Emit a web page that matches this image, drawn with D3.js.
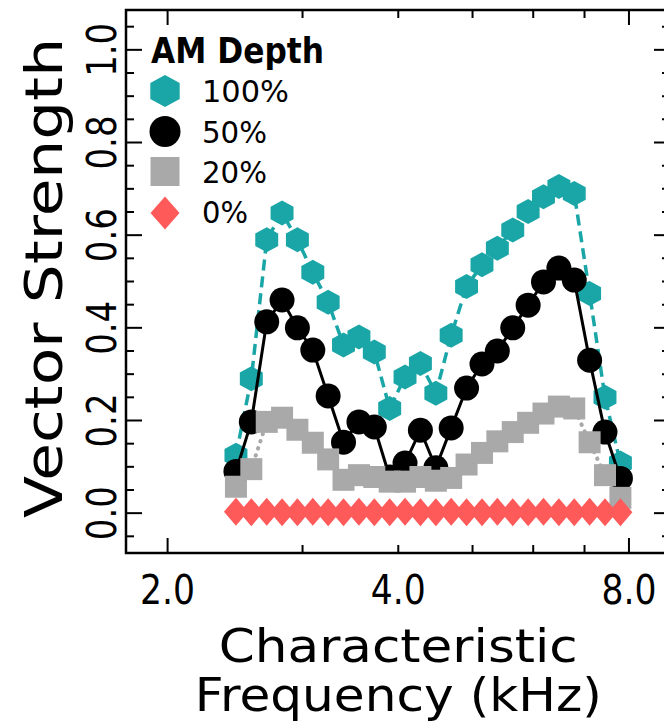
<!DOCTYPE html>
<html><head><meta charset="utf-8">
<script src="https://cdn.jsdelivr.net/npm/d3@7"></script>
<style>html,body{margin:0;padding:0;background:#fff;overflow:hidden}svg{display:block}</style>
</head><body><svg id="chart" width="664" height="723"></svg>
<script>
// ---- data ----
const cf = [2.456, 2.572, 2.694, 2.821, 2.954, 3.094, 3.240, 3.393, 3.554, 3.722,
            3.898, 4.082, 4.275, 4.478, 4.689, 4.911, 5.144, 5.387, 5.642, 5.909,
            6.188, 6.481, 6.787, 7.108, 7.444, 7.797];
const vs100 = [0.125, 0.290, 0.590, 0.648, 0.590, 0.520, 0.455, 0.363, 0.380, 0.348,
               0.226, 0.294, 0.323, 0.259, 0.384, 0.489, 0.536, 0.572, 0.611, 0.651,
               0.683, 0.705, 0.690, 0.474, 0.250, 0.108];
const vs50 = [0.090, 0.197, 0.413, 0.460, 0.400, 0.352, 0.253, 0.153, 0.197, 0.186,
              0.078, 0.108, 0.179, 0.098, 0.184, 0.270, 0.322, 0.350, 0.400, 0.449,
              0.499, 0.529, 0.503, 0.330, 0.175, 0.075];
const vs20 = [0.057, 0.095, 0.197, 0.206, 0.180, 0.152, 0.116, 0.072, 0.082, 0.078,
              0.068, 0.068, 0.078, 0.070, 0.076, 0.105, 0.130, 0.155, 0.175, 0.195,
              0.215, 0.230, 0.226, 0.153, 0.082, 0.033];
const vs0 = [0.003, 0.002, 0.003, 0.002, 0.002, 0.003, 0.002, 0.002, 0.003, 0.002,
             0.002, 0.003, 0.002, 0.002, 0.003, 0.002, 0.002, 0.003, 0.002, 0.002,
             0.003, 0.002, 0.002, 0.003, 0.002, 0.002];
const seriesNames = ["100%", "50%", "20%", "0%"];
const legendTitle = "AM Depth";
const xTicksLong = [2, 8];
const xTicksShort = [3, 4, 5, 6, 7];
const xLabelValues = [2, 4, 8];
const xLabelText = ["2.0", "4.0", "8.0"];
const yTicksMajor = [0, 0.2, 0.4, 0.6, 0.8, 1.0];
const yLabelText = ["0.0", "0.2", "0.4", "0.6", "0.8", "1.0"];
const yTicksMinor = [-0.05, 0.05, 0.1, 0.15, 0.25, 0.3, 0.35, 0.45, 0.5, 0.55, 0.65, 0.7, 0.75, 0.85, 0.9, 0.95, 1.05];
const xTitle = ["Characteristic", "Frequency (kHz)"];
const yTitle = "Vector Strength";

// ---- setup ----
const svg = d3.select("#chart");
const L = 126, R = 670, T = 10, B = 553;
const x = d3.scaleLog().domain([1.765, 9.05]).range([L, R]);
const y = d3.scaleLinear().domain([-0.086, 1.086]).range([B, T]);
const FONT = "'DejaVu Sans', 'Liberation Sans', sans-serif";

function hexType(r) {
  return { draw(ctx) {
    for (let k = 0; k < 6; k++) {
      const a = Math.PI / 2 + k * Math.PI / 3;
      const px = r * 1.06 * Math.cos(a), py = -r * Math.sin(a);
      if (k === 0) ctx.moveTo(px, py); else ctx.lineTo(px, py);
    }
    ctx.closePath();
  }};
}
function circleType(r) { return { draw(ctx) { ctx.moveTo(r, 0); ctx.arc(0, 0, r, 0, 2 * Math.PI); } }; }
function squareType(s) { return { draw(ctx) { ctx.rect(-s / 2, -s / 2, s, s); } }; }
function diamondType(w, h) { return { draw(ctx) { ctx.moveTo(0, -h); ctx.lineTo(w, 0); ctx.lineTo(0, h); ctx.lineTo(-w, 0); ctx.closePath(); } }; }

const series = [
  { name: seriesNames[0], vals: vs100, color: "#1aa6a6", dash: "11 6", lw: 3.5, cap: "butt",
    sym: hexType(12.5), lsym: hexType(16) },
  { name: seriesNames[1], vals: vs50, color: "#000000", dash: null, lw: 3, cap: "butt",
    sym: circleType(12.5), lsym: circleType(15.5) },
  { name: seriesNames[2], vals: vs20, color: "#a9a9a9", dash: "0.5 7", lw: 4, cap: "round",
    sym: squareType(22), lsym: squareType(29) },
  { name: seriesNames[3], vals: vs0, color: "#ff5a5a", dash: null, lw: 2, cap: "butt",
    sym: diamondType(12, 14), lsym: diamondType(14.5, 16.5) }
];

const line = d3.line().x((d, i) => x(cf[i])).y(d => y(d));

series.forEach(s => {
  const g = svg.append("g");
  g.append("path").attr("d", line(s.vals)).attr("fill", "none")
    .attr("stroke", s.color).attr("stroke-width", s.lw)
    .attr("stroke-dasharray", s.dash).attr("stroke-linecap", s.cap);
  g.selectAll("path.m").data(s.vals).join("path").attr("class", "m")
    .attr("d", d3.symbol().type(s.sym))
    .attr("transform", (d, i) => `translate(${x(cf[i])},${y(d)})`)
    .attr("fill", s.color);
});

// ---- frame & ticks ----
const tk = svg.append("g").attr("stroke", "#000").attr("stroke-width", 2);
function xt(vals, len) {
  vals.forEach(v => {
    tk.append("line").attr("x1", x(v)).attr("x2", x(v)).attr("y1", B).attr("y2", B - len);
    tk.append("line").attr("x1", x(v)).attr("x2", x(v)).attr("y1", T).attr("y2", T + len);
  });
}
xt(xTicksLong, 15); xt(xTicksShort, 8);
function yt(vals, len) {
  vals.forEach(v => {
    tk.append("line").attr("y1", y(v)).attr("y2", y(v)).attr("x1", L).attr("x2", L + len);
    tk.append("line").attr("y1", y(v)).attr("y2", y(v)).attr("x1", R).attr("x2", R - len);
  });
}
yt(yTicksMajor, 16); yt(yTicksMinor, 8);
svg.append("rect").attr("x", L).attr("y", T).attr("width", R - L).attr("height", B - T)
  .attr("fill", "none").attr("stroke", "#000").attr("stroke-width", 2.5);

// ---- tick labels ----
svg.append("g").selectAll("text").data(xLabelValues).join("text")
  .attr("x", d => x(d)).attr("y", 604).attr("text-anchor", "middle")
  .attr("font-family", FONT).attr("font-size", 40)
  .attr("textLength", 55).attr("lengthAdjust", "spacingAndGlyphs")
  .text((d, i) => xLabelText[i]);
svg.append("g").selectAll("text").data(yTicksMajor).join("text")
  .attr("x", 116).attr("y", d => y(d)).attr("text-anchor", "middle")
  .attr("transform", d => `rotate(-90,116,${y(d)})`)
  .attr("font-family", FONT).attr("font-size", 40)
  .attr("textLength", 54).attr("lengthAdjust", "spacingAndGlyphs")
  .text((d, i) => yLabelText[i]);

// ---- axis titles ----
const xc = x(4);
svg.append("text").attr("x", xc).attr("y", 662).attr("text-anchor", "middle")
  .attr("font-family", FONT).attr("font-size", 46)
  .attr("textLength", 359).attr("lengthAdjust", "spacingAndGlyphs").text(xTitle[0]);
svg.append("text").attr("x", xc).attr("y", 711).attr("text-anchor", "middle")
  .attr("font-family", FONT).attr("font-size", 46)
  .attr("textLength", 407).attr("lengthAdjust", "spacingAndGlyphs").text(xTitle[1]);
const yc = 278;
svg.append("text").attr("x", 62).attr("y", yc).attr("text-anchor", "middle")
  .attr("transform", `rotate(-90,62,${yc})`)
  .attr("font-family", FONT).attr("font-size", 52)
  .attr("textLength", 480).attr("lengthAdjust", "spacingAndGlyphs").text(yTitle);

// ---- legend ----
const lg = svg.append("g");
lg.append("text").attr("x", 151).attr("y", 63).attr("font-family", FONT)
  .attr("font-size", 35).attr("font-weight", "bold")
  .attr("textLength", 173).attr("lengthAdjust", "spacingAndGlyphs").text(legendTitle);
const legY = [91, 131.5, 171.5, 213];
const legBase = [102, 143, 183, 223];
const legLen = [87, 65, 65, 46];
series.forEach((s, i) => {
  lg.append("path").attr("d", d3.symbol().type(s.lsym)).attr("fill", s.color)
    .attr("transform", `translate(165,${legY[i]})`);
  lg.append("text").attr("x", 202).attr("y", legBase[i]).attr("font-family", FONT)
    .attr("font-size", 31).attr("textLength", legLen[i]).attr("lengthAdjust", "spacingAndGlyphs")
    .text(s.name);
});
</script>
</body></html>
